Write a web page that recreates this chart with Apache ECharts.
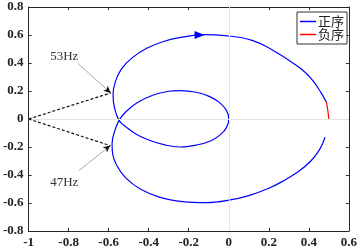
<!DOCTYPE html>
<html><head><meta charset="utf-8">
<script src="https://cdn.jsdelivr.net/npm/echarts@6/dist/echarts.min.js"></script>
<style>html,body{margin:0;padding:0;background:#fff}#c{width:360px;height:250px}</style>
</head><body><div id="c"></div>
<script>
// ---- data ----
const seriesNames = ['正序', '负序'];
const posX = [0.481, 0.455, 0.410, 0.348, 0.275, 0.200, 0.100, 0.000, -0.113, -0.230, -0.343, -0.442, -0.515, -0.560, -0.580, -0.583, -0.572, -0.548,
  -0.515, -0.460, -0.380, -0.300, -0.244, -0.162, -0.095, -0.044, -0.011, 0.000, -0.011, -0.040, -0.091, -0.162, -0.244, -0.320, -0.393, -0.460, -0.510, -0.548,
  -0.570, -0.578, -0.567, -0.535, -0.480, -0.410, -0.330, -0.240, -0.120, 0.000, 0.060, 0.120, 0.185, 0.249, 0.320, 0.381, 0.425, 0.460, 0.488];
const posY = [-0.130, -0.215, -0.300, -0.375, -0.440, -0.495, -0.547, -0.580, -0.597, -0.590, -0.560, -0.500, -0.420, -0.330, -0.250, -0.177, -0.095, -0.010,
  0.050, 0.115, 0.170, 0.198, 0.203, 0.191, 0.160, 0.115, 0.060, 0.000, -0.060, -0.110, -0.157, -0.186, -0.200, -0.185, -0.154, -0.110, -0.060, -0.010,
  0.075, 0.170, 0.265, 0.360, 0.440, 0.505, 0.552, 0.583, 0.602, 0.593, 0.582, 0.560, 0.520, 0.466, 0.400, 0.334, 0.265, 0.190, 0.120];
const negX = [0.488, 0.495, 0.500];
const negY = [0.120, 0.060, 0.000];
const xTickLabels = ['-1', '-0.8', '-0.6', '-0.4', '-0.2', '0', '0.2', '0.4', '0.6'];
const yTickLabels = ['-0.8', '-0.6', '-0.4', '-0.2', '0', '0.2', '0.4', '0.6', '0.8'];
const annoOrigin = [-1, 0];
const annoTip53 = [-0.59, 0.186];
const annoTip47 = [-0.592, -0.19];
const annoStart53 = [-0.753, 0.396];
const annoStart47 = [-0.748, -0.368];
const annoText53 = [-0.822, 0.446];
const annoText47 = [-0.822, -0.451];
const dirArrow = [-0.146, 0.600];
const annoLabels = ['53Hz', '47Hz'];

const xMin = -1, xMax = 0.6, yMin = -0.8, yMax = 0.8, step = 0.2;

const zip = (a, b) => a.map((v, i) => [v, b[i]]);
const fmt = (labels, min) => v => labels[Math.round((v - min) / step)] ?? '';
const near = (s, t, f) => [t[0] - (t[0] - s[0]) * f, t[1] - (t[1] - s[1]) * f];

const axisLine = { show: true, onZero: false, lineStyle: { color: '#262626', width: 1 } };
const tick = { show: true, inside: true, length: 3, lineStyle: { color: '#262626' } };
const lbl = { fontFamily: 'Liberation Serif', fontWeight: 'bold', fontSize: 13, color: '#222' };

const chart = echarts.init(document.getElementById('c'), null, { renderer: 'canvas' });
chart.setOption({
  animation: false,
  backgroundColor: '#fff',
  grid: { left: 27, top: 7, width: 324, height: 224, containLabel: false },
  legend: {
    data: seriesNames, orient: 'vertical', left: 297, top: 12,
    icon: 'rect', itemWidth: 16, itemHeight: 1.5, itemGap: 0,
    padding: [3, 3, 3, 3],
    backgroundColor: '#fff', borderColor: '#333', borderWidth: 1,
    textStyle: { fontFamily: 'Noto Sans CJK SC', fontSize: 13, lineHeight: 13, color: '#222', padding: [0, 0, 0, -3] }
  },
  xAxis: [
    { type: 'value', min: xMin, max: xMax, interval: step, position: 'bottom', axisLine, axisTick: tick,
      splitLine: { show: false }, axisLabel: { ...lbl, margin: 5, formatter: fmt(xTickLabels, xMin) } },
    { type: 'value', min: xMin, max: xMax, interval: step, position: 'top', axisLine, axisTick: tick,
      splitLine: { show: false }, axisLabel: { show: false } }
  ],
  yAxis: [
    { type: 'value', min: yMin, max: yMax, interval: step, position: 'left', axisLine, axisTick: tick,
      splitLine: { show: false }, axisLabel: { ...lbl, margin: 5, formatter: fmt(yTickLabels, yMin) } },
    { type: 'value', min: yMin, max: yMax, interval: step, position: 'right', axisLine, axisTick: tick,
      splitLine: { show: false }, axisLabel: { show: false } }
  ],
  series: [
    { name: 'zero', type: 'line', data: [], z: 1, silent: true,
      markLine: { silent: true, symbol: ['none', 'none'], label: { show: false },
        lineStyle: { color: '#e4e4e4', width: 1, type: 'solid' },
        data: [{ xAxis: 0 }, { yAxis: 0 }] } },
    { name: seriesNames[0], type: 'line', data: zip(posX, posY), showSymbol: false, smooth: 0.4, z: 3,
      lineStyle: { color: '#0000ff', width: 1.2 }, itemStyle: { color: '#0000ff' },
      markPoint: { silent: true, data: [{ coord: dirArrow, symbol: 'triangle', symbolSize: [8, 10], symbolRotate: -90,
        itemStyle: { color: '#0000ff' }, label: { show: false } }] } },
    { name: seriesNames[1], type: 'line', data: zip(negX, negY), showSymbol: false, smooth: 0.3, z: 4,
      lineStyle: { color: '#ff0000', width: 1.2 }, itemStyle: { color: '#ff0000' } },
    { name: 'anno', type: 'line', data: [], z: 5, silent: true,
      markLine: { silent: true, label: { show: false }, animation: false,
        data: [
          [{ coord: annoOrigin, symbol: 'none', lineStyle: { color: '#111', width: 1.2, type: [3, 2] } }, { coord: annoTip53, symbol: 'none' }],
          [{ coord: annoOrigin, symbol: 'none', lineStyle: { color: '#111', width: 1.2, type: [3, 2] } }, { coord: annoTip47, symbol: 'none' }],
          [{ coord: annoStart53, symbol: 'none', lineStyle: { color: '#aaa', width: 1, type: 'solid' } }, { coord: annoTip53, symbol: 'none' }],
          [{ coord: annoStart47, symbol: 'none', lineStyle: { color: '#aaa', width: 1, type: 'solid' } }, { coord: annoTip47, symbol: 'none' }],
          [{ coord: near(annoStart53, annoTip53, 0.12), symbol: 'none', lineStyle: { color: '#111', width: 1, type: 'solid' } }, { coord: annoTip53, symbol: 'arrow', symbolSize: [5, 7] }],
          [{ coord: near(annoStart47, annoTip47, 0.12), symbol: 'none', lineStyle: { color: '#111', width: 1, type: 'solid' } }, { coord: annoTip47, symbol: 'arrow', symbolSize: [5, 7] }]
        ] },
      markPoint: { silent: true, symbol: 'circle', symbolSize: 0,
        label: { show: true, position: 'inside', formatter: '{b}', fontFamily: 'Liberation Serif', fontSize: 13, color: '#333' },
        data: [{ name: annoLabels[0], coord: annoText53 }, { name: annoLabels[1], coord: annoText47 }] } }
  ]
});
</script>
</body></html>
